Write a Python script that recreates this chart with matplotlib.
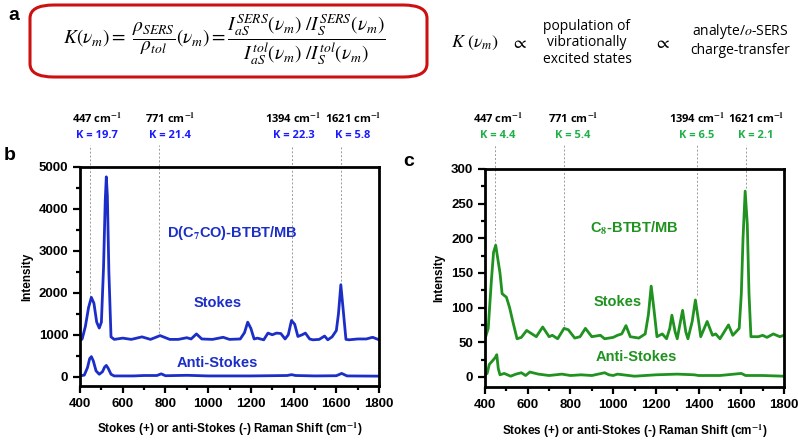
import matplotlib.pyplot as plt
from matplotlib.patches import FancyBboxPatch
from matplotlib.transforms import blended_transform_factory

plt.rcParams['font.family'] = ['Liberation Sans', 'DejaVu Sans']
plt.rcParams['axes.labelweight'] = 'bold'
plt.rcParams['mathtext.fontset'] = 'stix'

############## Data ##############

# panel b : D(C7CO)-BTBT/MB
b_stokes_x = [400, 410, 425, 440, 453, 465, 478, 490, 500, 510, 518, 523, 528, 535, 545, 560,
              600, 640, 690, 730, 775, 820, 860, 900, 920, 945, 970, 1020, 1070, 1100, 1150,
              1170, 1185, 1200, 1215, 1230, 1260, 1280, 1300, 1320, 1340, 1360, 1375, 1390,
              1405, 1420, 1440, 1455, 1475, 1490, 1520, 1545, 1560, 1580, 1600, 1610, 1621,
              1632, 1645, 1660, 1700, 1740, 1770, 1800]
b_stokes_y = [860, 900, 1200, 1650, 1890, 1750, 1300, 1160, 1300, 2600, 4200, 4760, 4300, 2500, 950, 890,
              920, 890, 950, 890, 980, 890, 890, 930, 900, 1020, 900, 890, 940, 890, 900,
              1050, 1300, 1150, 900, 920, 880, 1040, 1000, 1040, 1030, 900, 1000, 1340,
              1250, 960, 1000, 1040, 900, 880, 890, 970, 880, 950, 1100, 1500, 2190,
              1600, 890, 880, 900, 900, 940, 880]
b_anti_x = [400, 420, 435, 445, 453, 462, 475, 490, 505, 515, 523, 532, 545, 560, 650, 700,
            760, 780, 800, 900, 1000, 1200, 1370, 1390, 1410, 1500, 1600, 1625, 1650, 1800]
b_anti_y = [20, 40, 220, 430, 480, 380, 140, 60, 120, 230, 270, 200, 60, 20, 20, 30,
            30, 70, 25, 35, 20, 20, 30, 50, 30, 20, 25, 80, 20, 15]

# panel c : C8-BTBT/MB
c_stokes_x = [400, 415, 430, 440, 450, 460, 470, 480, 500, 515, 530, 550, 570, 595, 620, 640,
              670, 700, 715, 740, 770, 790, 820, 845, 870, 900, 940, 960, 1000, 1020, 1040, 1060,
              1080, 1120, 1150, 1165, 1178, 1190, 1205, 1230, 1250, 1265, 1275, 1290, 1300,
              1315, 1325, 1340, 1350, 1370, 1385, 1400, 1410, 1440, 1465, 1480, 1500, 1520,
              1540, 1560, 1590, 1600, 1608, 1618, 1628, 1636, 1645, 1680, 1700, 1720, 1750,
              1780, 1800]
c_stokes_y = [55, 70, 140, 180, 190, 170, 150, 120, 115, 100, 80, 55, 57, 67, 62, 58,
              72, 58, 60, 55, 70, 68, 56, 58, 70, 58, 60, 55, 57, 60, 62, 74,
              58, 56, 62, 90, 131, 100, 58, 62, 55, 70, 89, 65, 55,
              80, 96, 65, 55, 80, 111, 80, 58, 80, 60, 62, 55, 65,
              75, 60, 70, 120, 200, 268, 220, 120, 58, 58, 60, 57, 62,
              58, 60]
c_anti_x = [400, 410, 420, 440, 448, 455, 462, 470, 490, 520, 545, 570, 590, 610, 650, 700,
            760, 800, 850, 900, 960, 980, 1000, 1020, 1100, 1200, 1300, 1380, 1400, 1500,
            1600, 1620, 1700, 1800]
c_anti_y = [3, 5, 18, 25, 28, 32, 12, 3, 5, 1, 4, 6, 2, 7, 4, 2,
            4, 2, 3, 2, 6, 3, 2, 4, 1, 3, 4, 3, 2, 2,
            5, 2, 2, 1]

peaks = [447, 771, 1394, 1621]
b_K = ['19.7', '21.4', '22.3', '5.8']
c_K = ['4.4', '5.4', '6.5', '2.1']

############## Figure ##############

blue = '#1c2ec8'
green = '#1f921f'

fig = plt.figure(figsize=(7.98, 4.4), dpi=100)


def setup(ax, ylim, major, minor):
    ax.set_xlim(400, 1800)
    ax.set_ylim(*ylim)
    ax.set_xticks(range(400, 1801, 200))
    ax.set_xticks(range(500, 1800, 200), minor=True)
    ax.set_yticks(range(0, int(ylim[1]) + 1, major))
    ax.set_yticks(range(minor, int(ylim[1]), major), minor=True)
    plt.setp(ax.get_xticklabels() + ax.get_yticklabels(), fontweight='bold')
    for s in ax.spines.values():
        s.set_linewidth(2)
    ax.tick_params(which='major', direction='out', length=5, width=1.6, labelsize=9.5)
    ax.tick_params(which='minor', direction='out', length=3, width=1.6)
    ax.set_ylabel('Intensity', fontsize=8.5, labelpad=4)
    ax.set_xlabel('Stokes (+) or anti-Stokes (-) Raman Shift (cm$^{\\mathbf{-1}}$)',
                  fontsize=8.5, labelpad=8)


def annotate(ax, ends, top, text_x, Ks, kcolor):
    tr = blended_transform_factory(ax.transData, fig.transFigure)
    for p, e, tx, k in zip(peaks, ends, text_x, Ks):
        ax.plot([p, p], [e, top], ls=(0, (2, 2)), color='#9a9a9a', lw=0.7, clip_on=False, zorder=1)
        ax.text(tx, 1 - 118 / 440, '%d cm$^{\\mathbf{-1}}$' % p, transform=tr,
                ha='center', va='center', fontsize=8, fontweight='bold',
                family=['Open Sans', 'DejaVu Sans'])
        ax.text(tx, 1 - 135 / 440, 'K = ' + k, transform=tr,
                ha='center', va='center', fontsize=8, color=kcolor, fontweight='bold',
                family=['Open Sans', 'DejaVu Sans'])


def label(ax, x, y, s, color):
    ax.text(x, y, s, transform=ax.transAxes, ha='center', va='center',
            color=color, fontsize=10.5, fontweight='bold')


# panel b
axb = fig.add_axes([0.1003, 0.1227, 0.3747, 0.4983])
axb.plot(b_stokes_x, b_stokes_y, color=blue, lw=2)
axb.plot(b_anti_x, b_anti_y, color=blue, lw=2)
setup(axb, (-220, 5000), 1000, 500)
annotate(axb, [1890, 1040, 1340, 2190], 5520, [480, 821, 1400, 1678], b_K, '#1a1aff')
label(axb, 0.51, 0.70, 'D(C$_\\mathbf{7}$CO)-BTBT/MB', blue)
label(axb, 0.46, 0.38, 'Stokes', blue)
label(axb, 0.46, 0.105, 'Anti-Stokes', blue)

# panel c
axc = fig.add_axes([0.6078, 0.1198, 0.3747, 0.4962])
axc.plot(c_stokes_x, c_stokes_y, color=green, lw=2)
axc.plot(c_anti_x, c_anti_y, color=green, lw=2)
setup(axc, (-15, 300), 50, 25)
annotate(axc, [190, 73, 118, 272], 335, [461, 812, 1393, 1669], c_K, '#1fb04a')
label(axc, 0.5, 0.726, 'C$_\\mathbf{8}$-BTBT/MB', green)
label(axc, 0.445, 0.39, 'Stokes', green)
label(axc, 0.505, 0.14, 'Anti-Stokes', green)

# panel letters
fig.text(8 / 798, 1 - 15 / 440, 'a', fontsize=14, fontweight='bold', va='center')
fig.text(4 / 798, 1 - 155 / 440, 'b', fontsize=14, fontweight='bold', va='center')
fig.text(403 / 798, 1 - 162 / 440, 'c', fontsize=14, fontweight='bold', va='center')

# equation box
box = FancyBboxPatch((30 / 798, 1 - 77 / 440), 397 / 798, 72 / 440,
                     boxstyle='round,pad=0,rounding_size=0.03', transform=fig.transFigure,
                     fill=False, edgecolor='#cc1111', lw=2.2)
fig.patches.append(box)
fig.text(224 / 798, 1 - 40 / 440,
         r'$K(\nu_m)=\ \dfrac{\rho_{SERS}}{\rho_{tol}}(\nu_m)=\dfrac{I_{aS}^{SERS}(\nu_m)\ /I_{S}^{SERS}(\nu_m)}'
         r'{I_{aS}^{tol}(\nu_m)\ /I_{S}^{tol}(\nu_m)}$',
         fontsize=14, ha='center', va='center')

fig.text(475 / 798, 1 - 43 / 440, r'$K\ (\nu_m)$', fontsize=13, ha='center', va='center')
fig.text(519 / 798, 1 - 43 / 440, r'$\propto$', fontsize=13, ha='center', va='center')
fig.text(587 / 798, 1 - 43 / 440, 'population of\nvibrationally\nexcited states', fontsize=10,
         ha='center', va='center', family=['Open Sans', 'DejaVu Sans'], linespacing=1.1)
fig.text(662 / 798, 1 - 43 / 440, r'$\propto$', fontsize=13, ha='center', va='center')
fig.text(740 / 798, 1 - 40 / 440, 'analyte/$\\mathit{o}$-SERS\ncharge-transfer', fontsize=10,
         ha='center', va='center', family=['Open Sans', 'DejaVu Sans'], linespacing=1.1)

fig.savefig('out.png', dpi=100)
